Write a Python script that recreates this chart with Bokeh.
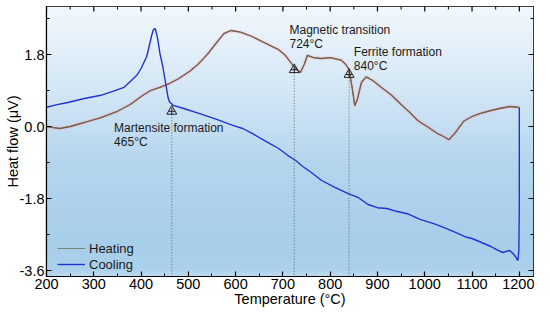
import numpy as np
from bokeh.plotting import figure
from bokeh.models import (SingleIntervalTicker, NumeralTickFormatter,
                          Range1d, Legend, LegendItem)
from bokeh.core.properties import value
from bokeh.embed import file_html
from bokeh.resources import INLINE

# ---------------- data ----------------
heat_T = [200, 215, 228, 250, 280, 315, 350, 377, 400, 420, 440, 461, 480, 503, 520, 540,
          560, 575, 590, 610, 635, 660, 691, 705, 718, 727, 737, 745, 752, 765, 782, 800,
          823, 833, 840, 846, 852, 858, 866, 876, 890, 908, 930, 950, 970, 985, 1005, 1026,
          1040, 1051, 1065, 1082, 1100, 1116, 1140, 1158, 1180, 1200]
heat_V = [0.00, -0.03, -0.05, 0.00, 0.10, 0.22, 0.38, 0.55, 0.75, 0.90, 0.98, 1.08, 1.20, 1.38,
          1.55, 1.80, 2.10, 2.32, 2.40, 2.36, 2.25, 2.10, 1.92, 1.78, 1.58, 1.45, 1.35, 1.55,
          1.78, 1.72, 1.70, 1.72, 1.66, 1.55, 1.42, 1.00, 0.52, 0.70, 1.10, 1.24, 1.15, 0.98,
          0.78, 0.55, 0.33, 0.15, 0.00, -0.17, -0.25, -0.33, -0.15, 0.13, 0.25, 0.32, 0.40,
          0.45, 0.50, 0.48]

cool_T = [1200, 1200, 1199, 1197, 1190, 1180, 1173, 1165, 1152, 1140, 1120, 1100, 1089, 1060,
          1040, 1019, 990, 963, 940, 920, 900, 880, 860, 838, 810, 782, 760, 740, 727, 710,
          691, 665, 636, 615, 594, 560, 524, 490, 468, 460, 457, 451, 446, 440, 435, 430,
          426, 423, 418, 412, 400, 391, 375, 364, 340, 315, 280, 245, 220, 200]
cool_V = [0.47, -2.00, -3.10, -3.35, -3.22, -3.10, -3.12, -3.15, -3.08, -3.00, -2.90, -2.80,
          -2.77, -2.62, -2.52, -2.43, -2.32, -2.18, -2.12, -2.05, -2.03, -1.95, -1.78, -1.68,
          -1.52, -1.35, -1.15, -0.98, -0.85, -0.72, -0.55, -0.38, -0.18, -0.05, 0.03, 0.18,
          0.32, 0.45, 0.53, 0.62, 0.73, 1.15, 1.50, 1.82, 2.20, 2.45, 2.42, 2.30, 2.05, 1.75,
          1.45, 1.28, 1.10, 0.98, 0.88, 0.78, 0.70, 0.60, 0.54, 0.48]

event_T = [465, 724, 840]
event_V = [0.38, 1.42, 1.30]
event_names = ["Martensite formation", "Magnetic transition", "Ferrite formation"]
event_temps = ["465°C", "724°C", "840°C"]
label_T = [343, 714, 850]
label_V = [0.14, 2.60, 2.03]

XMIN, XMAX = 200, 1230
YMIN, YMAX = -3.75, 3.0
X_STEP, Y_STEP = 100, 1.8

FONT = "Liberation Sans"

# ---------------- figure ----------------
p = figure(width=534, height=311, x_range=Range1d(XMIN, XMAX), y_range=Range1d(YMIN, YMAX),
           output_backend="svg", toolbar_location=None,
           min_border_left=46, min_border_right=1, min_border_top=6, min_border_bottom=35)
p.xgrid.visible = False
p.ygrid.visible = False
p.outline_line_color = "black"
p.outline_line_width = 1.2
p.background_fill_color = "white"
p.border_fill_color = "white"

# gradient background
stops_v = [YMIN, -3.6, -3.0, -1.0, 1.0, YMAX]
stops_c = [(190, 219, 241), (172, 209, 236), (168, 206, 234), (180, 213, 238),
           (213, 232, 246), (242, 248, 253)]
n = 240
ys = np.linspace(YMIN, YMAX, n)
img = np.empty((n, 1), dtype=np.uint32)
view = img.view(dtype=np.uint8).reshape((n, 1, 4))
for ch in range(3):
    view[:, 0, ch] = np.interp(ys, stops_v, [c[ch] for c in stops_c]).astype(np.uint8)
view[:, 0, 3] = 255
p.image_rgba(image=[img], x=XMIN, y=YMIN, dw=XMAX - XMIN, dh=YMAX - YMIN)

# axes
p.xaxis.ticker = SingleIntervalTicker(interval=X_STEP, num_minor_ticks=2)
p.yaxis.ticker = SingleIntervalTicker(interval=Y_STEP, num_minor_ticks=2)
p.yaxis.formatter = NumeralTickFormatter(format="0.0")
for ax in p.axis:
    ax.major_tick_in = 5
    ax.major_tick_out = 0
    ax.minor_tick_in = 3
    ax.minor_tick_out = 0
    ax.axis_line_width = 1.2
    ax.major_tick_line_width = 1.2
    ax.minor_tick_line_width = 1.0
    ax.major_label_text_font = FONT
    ax.major_label_text_font_size = "14.5px"
    ax.major_label_text_color = "black"
    ax.axis_label_text_font = FONT
    ax.axis_label_text_font_size = "14.5px"
    ax.axis_label_text_font_style = "normal"
    ax.axis_label_text_color = "black"
p.xaxis.axis_label = "Temperature (°C)"
p.xaxis.major_label_standoff = 2
p.xaxis.axis_label_standoff = -1
p.yaxis.axis_label = "Heat flow (μV)"
p.yaxis.major_label_standoff = 2
p.yaxis.axis_label_standoff = -4

# mirrored inward ticks on top and right edges (clipped to the frame)
x_major = np.arange(XMIN, XMAX + 1, X_STEP)
x_minor = x_major + X_STEP / 2
y_major = Y_STEP * np.arange(-2, 2)
y_minor = y_major + Y_STEP / 2
p.scatter(x_major, [YMAX] * len(x_major), marker="dash", angle=np.pi / 2, size=10,
          line_color="black", line_width=1.2)
p.scatter(x_minor, [YMAX] * len(x_minor), marker="dash", angle=np.pi / 2, size=6,
          line_color="black", line_width=1.0)
p.scatter([XMAX] * len(y_major), y_major, marker="dash", size=10,
          line_color="black", line_width=1.2)
p.scatter([XMAX] * len(y_minor), y_minor, marker="dash", size=6,
          line_color="black", line_width=1.0)

# curves
p.line(heat_T, heat_V, color="#f4a9c9", line_width=4, alpha=0.3)
lh = p.line(heat_T, heat_V, color="#74847a", line_width=1.0)
p.line(heat_T, heat_V, color="#7b5d45", line_width=1.3)
lc = p.line(cool_T, cool_V, color="#2232d2", line_width=1.4)

# event markers
p.segment(x0=event_T, y0=event_V, x1=event_T, y1=[YMIN] * len(event_T),
          line_color="#555555", line_width=0.9, line_dash="1 2")
p.scatter(event_T, event_V, marker="triangle", size=10, fill_color=None,
          line_color="#222222", line_width=1)
p.scatter(event_T, event_V, marker="cross", size=7, line_color="#222222", line_width=1)

p.text(label_T, label_V, text=event_names, text_font=value(FONT), text_font_size="12px",
       text_baseline="top", text_color="#1a1a1a")
p.text(label_T, label_V, text=event_temps, text_font=value(FONT), text_font_size="12px",
       text_baseline="top", text_color="#1a1a1a", y_offset=14)

# legend
legend = Legend(items=[LegendItem(label="Heating", renderers=[lh]),
                       LegendItem(label="Cooling", renderers=[lc])],
                location=(11, 4), background_fill_alpha=0, border_line_alpha=0,
                padding=0, margin=0, spacing=0, glyph_width=28, glyph_height=16,
                label_height=16, label_standoff=4, label_text_font=FONT,
                label_text_font_size="13px", label_text_color="#1a1a1a")
p.add_layout(legend)

open("out.html", "w").write(file_html(p, INLINE))
